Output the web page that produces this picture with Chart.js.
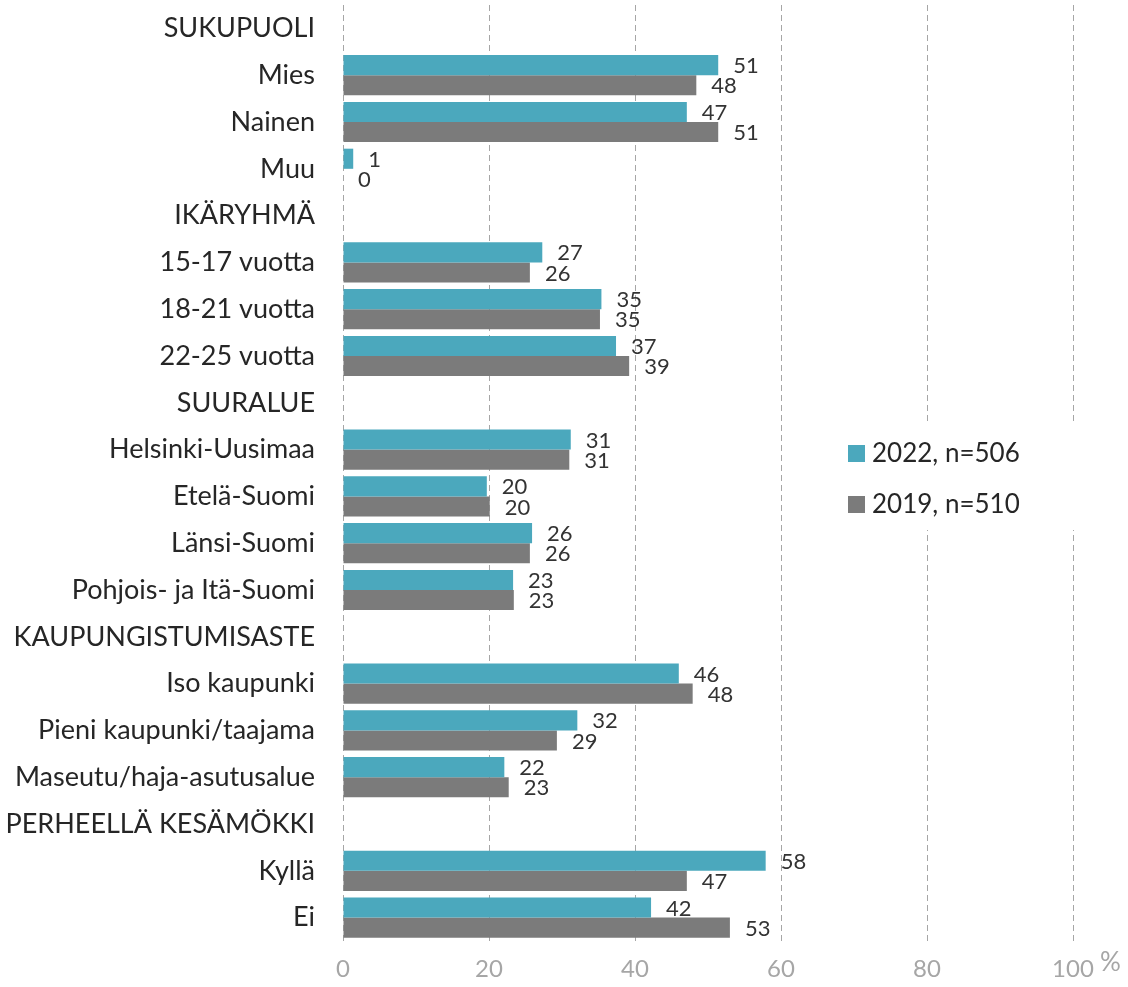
<!DOCTYPE html>
<html>
<head>
<meta charset="utf-8">
<script src="https://cdn.jsdelivr.net/npm/chart.js@4/dist/chart.umd.min.js"></script>
<style>
  html, body { margin: 0; padding: 0; background: #fff; }
  #wrap { width: 1128px; height: 987px; }
</style>
</head>
<body>
<div id="wrap"><canvas id="chart"></canvas></div>
<script>
// categories (headers have no values)
const categories = [
  'SUKUPUOLI', 'Mies', 'Nainen', 'Muu',
  'IKÄRYHMÄ', '15-17 vuotta', '18-21 vuotta', '22-25 vuotta',
  'SUURALUE', 'Helsinki-Uusimaa', 'Etelä-Suomi', 'Länsi-Suomi', 'Pohjois- ja Itä-Suomi',
  'KAUPUNGISTUMISASTE', 'Iso kaupunki', 'Pieni kaupunki/taajama', 'Maseutu/haja-asutusalue',
  'PERHEELLÄ KESÄMÖKKI', 'Kyllä', 'Ei'
];
const values2022 = [null, 51.4, 47.1, 1.4, null, 27.3, 35.4, 37.4, null, 31.2, 19.7, 25.9, 23.3, null, 46.0, 32.1, 22.1, null, 57.9, 42.2];
const values2019 = [null, 48.4, 51.4, 0, null, 25.6, 35.2, 39.2, null, 31.0, 20.1, 25.6, 23.4, null, 47.9, 29.3, 22.7, null, 47.1, 53.0];
const seriesNames = ['2022, n=506', '2019, n=510'];
const tickLabels = ['0', '20', '40', '60', '80', '100'];
const unitLabel = '%';

const FONT = 'Lato, "Open Sans", sans-serif';
const colors = ['#4BA8BD', '#7B7B7B'];

// value labels at the bar ends
const valueLabels = {
  id: 'valueLabels',
  afterDatasetsDraw(chart) {
    const ctx = chart.ctx;
    ctx.save();
    ctx.font = '22px ' + FONT;
    ctx.fillStyle = '#333333';
    ctx.textAlign = 'left';
    ctx.textBaseline = 'middle';
    chart.data.datasets.forEach((ds, i) => {
      chart.getDatasetMeta(i).data.forEach((el, j) => {
        const v = ds.data[j];
        if (v === null) return;
        ctx.fillText(String(Math.round(v)), el.x + 15, el.y + 1);
      });
    });
    ctx.restore();
  }
};

// legend on white box over the grid, plus the % unit after the last tick
const sideLegend = {
  id: 'sideLegend',
  afterDraw(chart) {
    const ctx = chart.ctx;
    ctx.save();
    ctx.fillStyle = '#ffffff';
    ctx.fillRect(838, 424, 245, 106);
    ctx.font = '26px ' + FONT;
    ctx.textBaseline = 'middle';
    ctx.textAlign = 'left';
    seriesNames.forEach((name, i) => {
      const y = 453 + i * 51;
      ctx.fillStyle = colors[i];
      ctx.fillRect(848, y - 8, 17, 17);
      ctx.fillStyle = '#262626';
      ctx.fillText(name, 872, y + 1);
    });
    const xs = chart.scales.x;
    ctx.font = '25px ' + FONT;
    ctx.fillStyle = '#A6A6A6';
    ctx.font = '24px ' + FONT;
    const w = ctx.measureText(tickLabels[tickLabels.length - 1]).width;
    ctx.font = '26px ' + FONT;
    ctx.textBaseline = 'middle';
    ctx.fillText(unitLabel, xs.getPixelForValue(100) + w / 2 + 6, 963);
    ctx.restore();
  }
};

new Chart(document.getElementById('chart'), {
  type: 'bar',
  data: {
    labels: categories,
    datasets: [
      { label: seriesNames[0], data: values2022, backgroundColor: colors[0], categoryPercentage: 0.86, barPercentage: 1 },
      { label: seriesNames[1], data: values2019, backgroundColor: colors[1], categoryPercentage: 0.86, barPercentage: 1 }
    ]
  },
  options: {
    indexAxis: 'y',
    responsive: true,
    maintainAspectRatio: false,
    animation: false,
    layout: { padding: { left: 0, right: 55, top: 5, bottom: 0 } },
    plugins: {
      legend: { display: false },
      tooltip: { enabled: false }
    },
    scales: {
      x: {
        min: 0,
        max: 100,
        ticks: {
          stepSize: 20,
          padding: 14,
          color: '#A6A6A6',
          font: { family: FONT, size: 24 },
          callback: (v, i) => tickLabels[i]
        },
        grid: { color: '#A6A6A6', lineWidth: 1, drawTicks: false },
        border: { display: false, dash: [6, 4] },
        afterFit: (s) => { s.height = 46; s.paddingLeft = 0; s.paddingRight = 0; }
      },
      y: {
        ticks: {
          padding: 28,
          color: '#262626',
          font: { family: FONT, size: 27 },
          autoSkip: false
        },
        grid: { display: false, drawTicks: false },
        border: { display: false },
        afterFit: (s) => { s.width = 343; s.paddingTop = 0; s.paddingBottom = 0; }
      }
    }
  },
  plugins: [valueLabels, sideLegend]
});
</script>
</body>
</html>
